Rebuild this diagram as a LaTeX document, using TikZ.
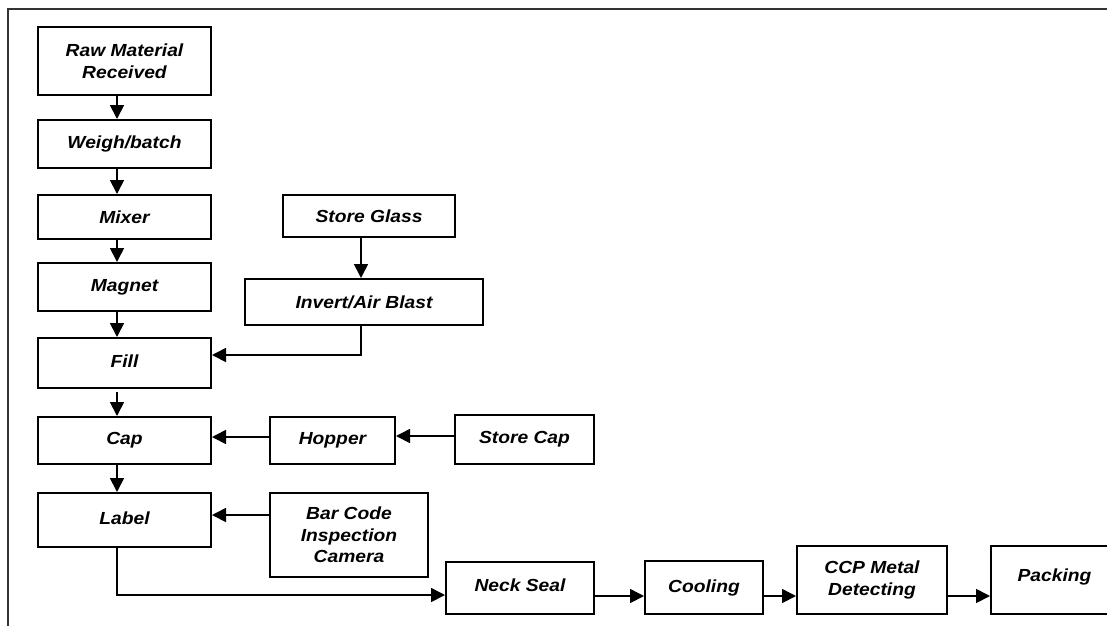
\documentclass[tikz,border=0pt]{standalone}
\usepackage{fontspec}
\setmainfont{Liberation Sans}[FakeStretch=1.1]
\usetikzlibrary{arrows.meta,calc}
\newcommand{\stepnode}[6]{%
  \node[stepbox,minimum width={(#4-#2)*1pt},minimum height={(#5-#3)*1pt}]
    (#1) at ({(#2+#4)/2},{(#3+#5)/2}) {#6};}
\begin{document}
\begin{tikzpicture}[x=1pt,y=-1pt,
  every node/.style={inner sep=0pt},
  stepbox/.style={draw=black,line width=2pt,fill=white,align=center,
    font=\fontsize{17.5}{21.5}\selectfont\bfseries\itshape},
  flow/.style={draw=black,line width=1.7pt,-{Triangle[length=14pt,width=14pt]}},
  frame/.style={draw=black!80,line width=2.4pt}]
\useasboundingbox (0,0) rectangle (1107,625);
% outer frame
\coordinate (f1) at (8,640);
\coordinate (f2) at (8,9);
\coordinate (f3) at (1120,9);
\draw[frame] (f1) -- (f2) -- (f3);
\stepnode{raw}{38}{27}{211}{95}{Raw Material\\Received}
\stepnode{weigh}{38}{120}{211}{168}{Weigh/batch}
\stepnode{mixer}{38}{195}{211}{239}{Mixer}
\stepnode{magnet}{38}{263}{211}{311}{Magnet}
\stepnode{fill}{38}{338}{211}{388}{\raisebox{3pt}{Fill}}
\stepnode{cap}{38}{417}{211}{464}{Cap}
\stepnode{label}{38}{493}{211}{547}{\raisebox{4pt}{Label}}
\stepnode{glass}{283}{195}{455}{237}{Store Glass}
\stepnode{invert}{245}{279}{483}{325}{Invert/Air Blast}
\stepnode{hopper}{270}{417}{395}{464}{Hopper}
\stepnode{storecap}{455}{415}{594}{464}{Store Cap}
\stepnode{barcode}{270}{493}{428}{577}{Bar Code\\Inspection\\Camera}
\stepnode{neck}{446}{562}{594}{614}{\raisebox{5pt}{Neck Seal}}
\stepnode{cooling}{645}{561}{763}{614}{\raisebox{3pt}{Cooling}}
\stepnode{ccp}{797}{546}{947}{614}{CCP Metal\\Detecting}
\stepnode{packing}{991}{546}{1118}{614}{\raisebox{10pt}{Packing}}
% reference coordinates
\coordinate (xa) at (117,0);
\coordinate (xg) at (361,0);
\coordinate (yf) at (0,355);
\coordinate (yc) at (0,437);
\coordinate (ysc) at (0,436);
\coordinate (yl) at (0,515);
\coordinate (yn) at (0,595);
\coordinate (yb) at (0,596);
% main column
\draw[flow] (raw.south -| xa) -- (weigh.north -| xa);
\draw[flow] (weigh.south -| xa) -- (mixer.north -| xa);
\draw[flow] (mixer.south -| xa) -- (magnet.north -| xa);
\draw[flow] (magnet.south -| xa) -- (fill.north -| xa);
\draw[flow] ($(fill.south -| xa)+(0,3)$) -- (cap.north -| xa);
\draw[flow] (cap.south -| xa) -- (label.north -| xa);
% glass branch
\draw[flow] (glass.south -| xg) -- (invert.north -| xg);
\draw[flow] (invert.south -| xg) |- (fill.east |- yf);
% cap branch
\draw[flow] (storecap.west |- ysc) -- (hopper.east |- ysc);
\draw[flow] (hopper.west |- yc) -- (cap.east |- yc);
% barcode
\draw[flow] (barcode.west |- yl) -- (label.east |- yl);
% bottom row
\draw[flow] (label.south -| xa) |- (neck.west |- yn);
\draw[flow] (neck.east |- yb) -- (cooling.west |- yb);
\draw[flow] (cooling.east |- yb) -- (ccp.west |- yb);
\draw[flow] (ccp.east |- yb) -- (packing.west |- yb);
\end{tikzpicture}
\end{document}
